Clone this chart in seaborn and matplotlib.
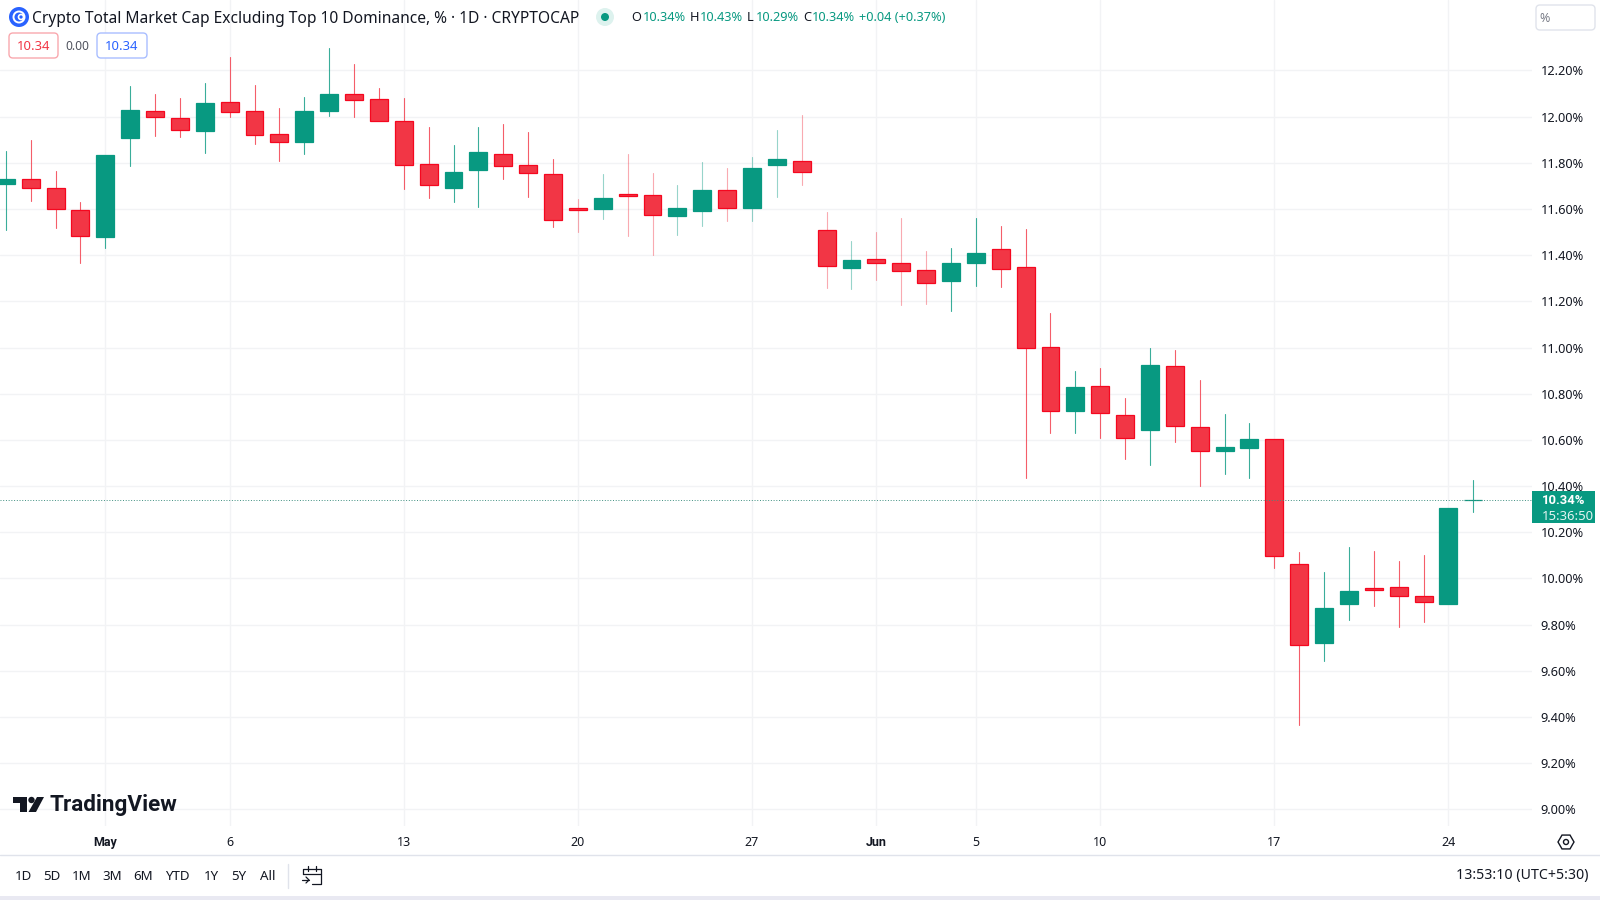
import numpy as np
import pandas as pd
import seaborn as sns
import matplotlib.pyplot as plt
from matplotlib.patches import Rectangle, Circle, Polygon, FancyBboxPatch, RegularPolygon
from matplotlib.lines import Line2D

# candles, one per calendar day, day 0 = 1 May
days = list(range(-4, 56))
opens = [11.71, 11.73, 11.69, 11.596, 11.48, 11.908, 12.023, 11.996, 11.937, 12.063,
         12.023, 11.925, 11.891, 12.023, 12.099, 12.078, 11.98, 11.794, 11.689, 11.768,
         11.837, 11.79, 11.75, 11.606, 11.602, 11.664, 11.659, 11.571, 11.593, 11.681,
         11.605, 11.789, 11.807, 11.508, 11.346, 11.382, 11.364, 11.335, 11.287, 11.364,
         11.426, 11.349, 11.004, 10.727, 10.835, 10.71, 10.641, 10.922, 10.658, 10.554,
         10.564, 10.605, 10.062, 9.72, 9.89, 9.96, 9.962, 9.926, 9.89, 10.338]
closes = [11.73, 11.69, 11.60, 11.482, 11.835, 12.029, 11.999, 11.941, 12.06, 12.02,
          11.922, 11.892, 12.024, 12.096, 12.073, 11.98, 11.79, 11.704, 11.761, 11.845,
          11.786, 11.754, 11.554, 11.595, 11.649, 11.655, 11.576, 11.603, 11.683, 11.606,
          11.779, 11.818, 11.758, 11.351, 11.378, 11.364, 11.333, 11.281, 11.364, 11.411,
          11.338, 11.0, 10.727, 10.828, 10.717, 10.609, 10.924, 10.662, 10.551, 10.57,
          10.605, 10.098, 9.71, 9.87, 9.944, 9.951, 9.926, 9.896, 10.306, 10.341]
highs = [11.849, 11.90, 11.763, 11.629, 11.835, 12.132, 12.098, 12.079, 12.144, 12.259,
         12.137, 12.039, 12.086, 12.295, 12.23, 12.125, 12.082, 11.954, 11.878, 11.954,
         11.968, 11.935, 11.817, 11.644, 11.752, 11.838, 11.755, 11.704, 11.802, 11.776,
         11.824, 11.942, 12.007, 11.587, 11.462, 11.502, 11.56, 11.418, 11.43, 11.56,
         11.527, 11.514, 11.149, 10.898, 10.913, 10.782, 11.0, 10.988, 10.859, 10.714,
         10.675, 10.605, 10.115, 10.026, 10.137, 10.118, 10.076, 10.101, 10.306, 10.426]
lows = [11.508, 11.633, 11.519, 11.364, 11.429, 11.787, 11.914, 11.911, 11.843, 11.999,
        11.882, 11.806, 11.839, 12.003, 12.0, 11.98, 11.688, 11.649, 11.63, 11.61,
        11.728, 11.652, 11.524, 11.502, 11.557, 11.485, 11.401, 11.488, 11.527, 11.55,
        11.55, 11.651, 11.704, 11.257, 11.254, 11.293, 11.185, 11.189, 11.16, 11.268,
        11.261, 10.437, 10.632, 10.632, 10.61, 10.517, 10.491, 10.592, 10.401, 10.452,
        10.434, 10.045, 9.365, 9.644, 9.82, 9.88, 9.791, 9.81, 9.89, 10.289]

price_ticks = [9.0, 9.2, 9.4, 9.6, 9.8, 10.0, 10.2, 10.4, 10.6, 10.8, 11.0, 11.2, 11.4, 11.6, 11.8, 12.0, 12.2]
date_ticks = [0, 5, 12, 19, 26, 31, 35, 40, 47, 54]
date_labels = ['May', '6', '13', '20', '27', 'Jun', '5', '10', '17', '24']
last_price = 10.34

UP = '#089981'
DOWN = '#F23645'
DOWN_EDGE = '#F5071F'
GRID = '#F2F3F5'
TEXT = '#131722'

sns.set_theme(style='white')
plt.rcParams['font.family'] = ['Noto Sans', 'DejaVu Sans']

df = pd.DataFrame({'day': days, 'open': opens, 'close': closes, 'high': highs, 'low': lows})
df['up'] = df['close'] >= df['open']
df['bottom'] = df[['open', 'close']].min(axis=1)
df['body'] = (df['close'] - df['open']).abs()
wicks = df.melt(id_vars=['day', 'up'], value_vars=['low', 'high'], value_name='price').sort_values(['day', 'price'])
# wicks in the middle of the screenshot came out paler
wicks['pale'] = wicks['day'].between(19, 33)

fig = plt.figure(figsize=(16, 9), dpi=100)
ax = fig.add_axes([0, 1 - 826 / 900, 1532 / 1600, 826 / 900])

# wicks first, the bodies sit on top
for is_up, color in [(True, UP), (False, DOWN)]:
    for pale, alpha in [(False, 0.8), (True, 0.42)]:
        sub = wicks[(wicks['up'] == is_up) & (wicks['pale'] == pale)]
        sns.lineplot(data=sub, x='day', y='price', units='day', estimator=None, color=color,
                     linewidth=0.8, alpha=alpha, ax=ax, legend=False, zorder=3)

for is_up, color, edge in [(True, UP, UP), (False, DOWN, DOWN_EDGE)]:
    sub = df[df['up'] == is_up]
    sns.barplot(data=sub, x='day', y='body', bottom=sub['bottom'].to_numpy(), native_scale=True,
                width=0.72, color=color, saturation=1, edgecolor=edge, linewidth=0.9,
                errorbar=None, ax=ax, legend=False, zorder=4)

ax.set_xlim(-4.234, 57.36)
ax.set_ylim(8.928, 12.505)
ax.axhline(last_price, color='#3F8F80', linewidth=0.7, linestyle=(0, (1, 1.8)), zorder=5)

ax.set_xticks(date_ticks, date_labels)
ax.set_yticks(price_ticks, [f'{p:.2f}%' for p in price_ticks])
ax.yaxis.tick_right()
ax.tick_params(axis='y', length=0, pad=6, labelsize=9.2, labelcolor=TEXT)
ax.tick_params(axis='x', length=0, pad=7.5, labelsize=9, labelcolor=TEXT)
for lab in ax.get_xticklabels():
    if lab.get_text() in ('May', 'Jun'):
        lab.set_fontfamily('Roboto')
        lab.set_fontweight('bold')
ax.grid(True, color=GRID, linewidth=1)
ax.set_axisbelow(True)
ax.set_xlabel('')
ax.set_ylabel('')
sns.despine(ax=ax, left=True, bottom=True, right=True, top=True)


# page furniture is placed in pixels of the 1600x900 picture
def X(x):
    return x / 1600


def Y(y):
    return 1 - y / 900


def label(x, y, s, size=9, color=TEXT, ha='left', **kw):
    fig.text(X(x), Y(y), s, fontsize=size, color=color, ha=ha, va='center', zorder=8, **kw)


def box(x0, y0, x1, y1, edge, face='white', lw=1, round_px=4):
    # pixel space so the corner radius stays round
    p = FancyBboxPatch((x0, 900 - y1), x1 - x0, y1 - y0, boxstyle=f'round,pad=0,rounding_size={round_px}',
                       facecolor=face, edgecolor=edge, linewidth=lw, transform=None, zorder=6)
    fig.add_artist(p)


def dot(x, y, r, color, **kw):
    fig.add_artist(Circle((x, 900 - y), r, facecolor=color, transform=None, **kw))


def seg(pts, color=TEXT, lw=1):
    fig.add_artist(Line2D([X(p[0]) for p in pts], [Y(p[1]) for p in pts], color=color, linewidth=lw))


# header
dot(19, 17, 10, '#2962FF', edgecolor='none')
dot(19, 17, 5.5, 'none', edgecolor='white', linewidth=1.4)
dot(21, 17, 2.5, 'none', edgecolor='white', linewidth=1.2)
label(32, 19, 'Crypto Total Market Cap Excluding Top 10 Dominance, % · 1D · CRYPTOCAP', size=11.2)
dot(605, 17, 9, '#DDF2EE', edgecolor='none')
dot(605, 17, 4, UP, edgecolor='none')
for x, s in [(631, 'O'), (690, 'H'), (747, 'L'), (803, 'C')]:
    label(x, 17.5, s, size=9.2)
for x, s in [(643, '10.34%'), (700, '10.43%'), (756, '10.29%'), (812, '10.34%'), (859, '+0.04 (+0.37%)')]:
    label(x, 17.5, s, size=9.2, color=UP)

box(9, 33, 58, 58, '#F9A8AE')
label(33.5, 47, '10.34', size=9.4, color=DOWN, ha='center')
label(77.5, 46.5, '0.00', size=8.6, color='#50535E', ha='center')
box(97, 33, 147, 58, '#A9BEFF')
label(122, 47, '10.34', size=9.4, color='#2962FF', ha='center')
box(1536, 5, 1595, 30, '#E0E3EB')
label(1539, 18, '%', size=9, color='#787B86')

# last price tag
fig.add_artist(Rectangle((X(1532), Y(523)), 63 / 1600, 32 / 900, facecolor=UP, edgecolor='none',
                         transform=fig.transFigure, zorder=6))
label(1542, 501, '10.34%', size=9.4, color='white', family='Roboto', fontweight='bold')
label(1542, 516.5, '15:36:50', size=9.4, color='#E3F4F1')

# TradingView mark
fig.add_artist(Polygon([(X(13), Y(797)), (X(27), Y(797)), (X(27), Y(812)), (X(20), Y(812)), (X(20), Y(803)), (X(13), Y(803))],
                       closed=True, facecolor=TEXT, edgecolor='none', transform=fig.transFigure))
dot(31.5, 800, 3.2, TEXT, edgecolor='none')
fig.add_artist(Polygon([(X(37), Y(797)), (X(44), Y(797)), (X(36), Y(812)), (X(28.5), Y(812))],
                       closed=True, facecolor=TEXT, edgecolor='none', transform=fig.transFigure))
label(50, 805, 'TradingView', size=16.2, family='Roboto', fontweight='bold')

# bottom toolbar
seg([(0, 855), (1600, 855)], color='#E0E3EB', lw=1)
fig.add_artist(Rectangle((0, 0), 1, 4 / 900, facecolor='#E9E9F2', edgecolor='none', transform=fig.transFigure))
for x, s in [(23, '1D'), (52, '5D'), (82, '1M'), (112, '3M'), (143, '6M'), (177, 'YTD'), (211, '1Y'), (239, '5Y'), (268, 'All')]:
    label(x, 876, s, size=9.6, ha='center')
seg([(288, 864), (288, 888)], color='#E0E3EB', lw=1)
seg([(303, 874), (303, 869), (321, 869), (321, 884), (312, 884)], lw=0.9)
seg([(303, 874), (321, 874)], lw=0.9)
seg([(308, 866), (308, 871)], lw=0.9)
seg([(316, 866), (316, 871)], lw=0.9)
seg([(302, 880), (309, 880)], lw=0.9)
seg([(306, 877), (309, 880), (306, 883)], lw=0.9)
label(1589, 876, '13:53:10 (UTC+5:30)', size=10.2, ha='right')

# settings hexagon on the time axis
fig.add_artist(RegularPolygon((1566, 900 - 842), 6, radius=8, orientation=np.pi / 6, facecolor='none',
                              edgecolor=TEXT, linewidth=1, transform=None))
dot(1566, 842, 2.5, 'none', edgecolor=TEXT, linewidth=1)

fig.savefig('out.png', dpi=100)
